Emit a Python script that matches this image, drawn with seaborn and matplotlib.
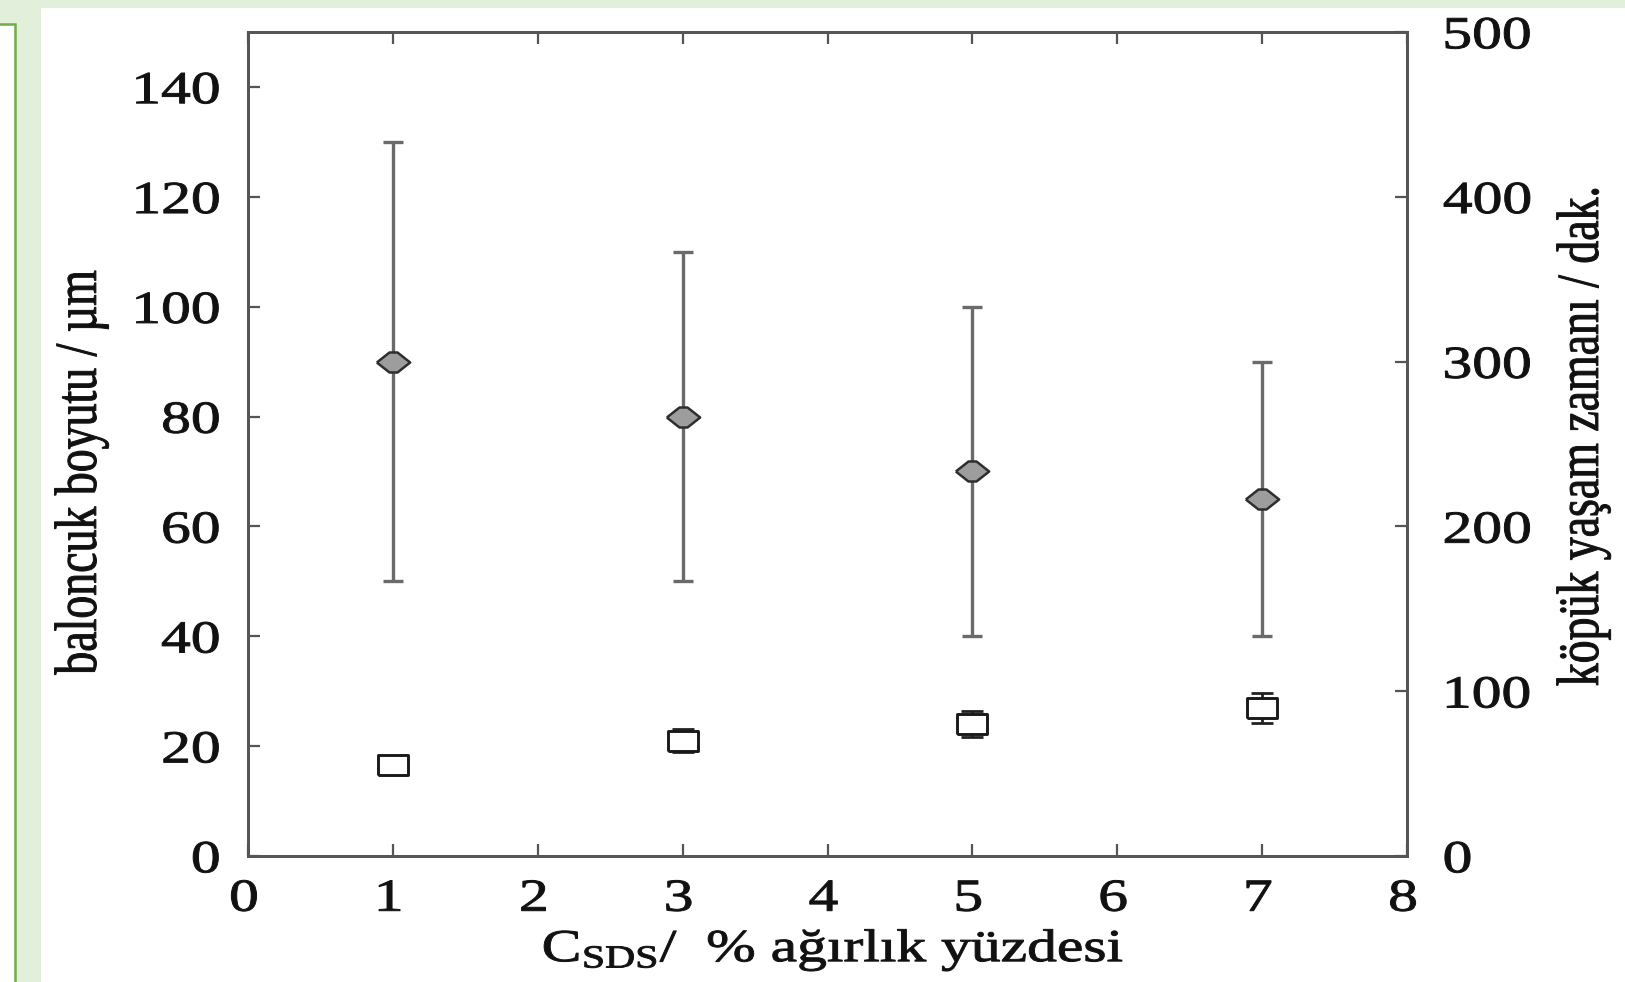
import matplotlib
matplotlib.use("Agg")
import matplotlib.pyplot as plt
import seaborn as sns
import numpy as np
import pandas as pd
from matplotlib.patches import Rectangle
from matplotlib.patheffects import AbstractPathEffect
from matplotlib.transforms import Affine2D

# ---------------- data ----------------
concentration = [1, 3, 5, 7]
bubble_size = [90, 80, 70, 65]
bubble_low = [50, 50, 40, 40]
bubble_high = [130, 110, 100, 90]
foam_life = [55, 70, 80, 90]
foam_err = [3, 7, 8, 9]

x_ticks = [0, 1, 2, 3, 4, 5, 6, 7, 8]
left_ticks = [0, 20, 40, 60, 80, 100, 120, 140]
right_ticks = [0, 100, 200, 300, 400, 500]

x_label = "C$_{\\mathrm{SDS}}$/  % ağırlık yüzdesi"
left_label = "baloncuk boyutu / µm"
right_label = "köpük yaşam zamanı / dak."

# ---------------- style ----------------
sns.set_theme(style="white")
plt.rcParams['font.family'] = ['Liberation Serif', 'DejaVu Serif']
plt.rcParams['mathtext.fontset'] = 'custom'
plt.rcParams['mathtext.rm'] = 'Liberation Serif'
plt.rcParams['mathtext.it'] = 'Liberation Serif:italic'
plt.rcParams['mathtext.bf'] = 'Liberation Serif:bold'


class Stretch(AbstractPathEffect):
    """Stretch rendered text glyphs (the reference image is stretched horizontally)."""
    def __init__(self, sx=1.0, sy=1.0, anchor='center', stroke=0.0, dx=0.0):
        super().__init__()
        self.sx, self.sy, self.anchor = sx, sy, anchor
        self.stroke = stroke
        self.dx = dx

    def draw_path(self, renderer, gc, tpath, affine, rgbFace=None):
        ext = tpath.get_extents()
        if self.anchor == 'left':
            axp = ext.x0
        elif self.anchor == 'right':
            axp = ext.x1
        else:
            axp = (ext.x0 + ext.x1) / 2
        ayp = (ext.y0 + ext.y1) / 2
        t = Affine2D().translate(-axp, -ayp).scale(self.sx, self.sy).translate(axp, ayp)
        full = t + affine + Affine2D().translate(self.dx, 0)
        gc0 = renderer.new_gc()
        gc0.copy_properties(gc)
        if self.stroke > 0 and rgbFace is not None:
            gc0.set_linewidth(self.stroke)
            gc0.set_foreground(rgbFace)
        renderer.draw_path(gc0, tpath, full, rgbFace)
        gc0.restore()


SX = 1.3
FS = 33
STROKE = 0.7
SPINE_C = '#555555'
TXT_C = '#111111'

fig = plt.figure(figsize=(16.25, 9.82), dpi=100)
fig.patch.set_facecolor('white')

# decorative slide background
light_green = '#E2EFDA'
border_green = '#70AD47'
fig.patches.append(Rectangle((0, 1 - 8 / 982), 1, 8 / 982, transform=fig.transFigure,
                             facecolor=light_green, edgecolor='none', zorder=0))
fig.patches.append(Rectangle((0, 0), 41 / 1625, 1, transform=fig.transFigure,
                             facecolor=light_green, edgecolor='none', zorder=0))
fig.patches.append(Rectangle((-5 / 1625, -5 / 982), 20 / 1625, (982 - 24 + 5) / 982,
                             transform=fig.transFigure, facecolor='white',
                             edgecolor=border_green, linewidth=1.8, zorder=1))

ax = fig.add_axes([248 / 1625, 126 / 982, 1159 / 1625, 824 / 982])
ax2 = ax.twinx()

# bubble size (left axis): grey diamonds with error bars
yerr = np.array([np.array(bubble_size) - np.array(bubble_low),
                 np.array(bubble_high) - np.array(bubble_size)])
ax.errorbar(concentration, bubble_size, yerr=yerr, fmt='none', ecolor='#6a6a6a',
            elinewidth=2.4, capsize=7.5, capthick=2.4, zorder=2)
diamond = [(-0.5, 0), (-0.12, 0.3), (0.12, 0.3), (0.5, 0), (0.12, -0.3), (-0.12, -0.3), (-0.5, 0)]
df_b = pd.DataFrame({'c': concentration, 'size': bubble_size})
sns.scatterplot(data=df_b, x='c', y='size', ax=ax, marker=diamond, s=24 ** 2,
                color='#9d9d9d', edgecolor='#2e2e2e', linewidth=1.8, zorder=3, legend=False)

# foam lifetime (right axis): open squares with small error bars
ax2.errorbar(concentration, foam_life, yerr=foam_err, fmt='none', ecolor='#222222',
             elinewidth=2.0, capsize=8, capthick=2.0, zorder=2)
square = [(-0.5, -0.33), (0.5, -0.33), (0.5, 0.33), (-0.5, 0.33), (-0.5, -0.33)]
df_f = pd.DataFrame({'c': concentration, 'life': foam_life})
sns.scatterplot(data=df_f, x='c', y='life', ax=ax2, marker=square, s=21.5 ** 2,
                color='white', edgecolor='#1a1a1a', linewidth=2.1, zorder=3, legend=False)

# limits & ticks
ax.set_xlim(0, 8)
ax.set_ylim(0, 150)
ax2.set_ylim(0, 500)
ax.set_xticks(x_ticks)
ax.set_xticklabels([str(v) for v in x_ticks])
ax.set_yticks(left_ticks)
ax.set_yticklabels([str(v) for v in left_ticks])
ax2.set_yticks(right_ticks)
ax2.set_yticklabels([str(v) for v in right_ticks])

for a in (ax, ax2):
    a.set_facecolor('none')
    for s in a.spines.values():
        s.set_color(SPINE_C)
        s.set_linewidth(2.0)
    a.grid(False)

ax.patch.set_visible(False)
ax.tick_params(axis='x', which='major', direction='in', length=8.5, width=1.6,
               color=SPINE_C, top=True, bottom=True, labelsize=FS, labelcolor=TXT_C, pad=16)
ax.tick_params(axis='y', which='major', direction='in', length=8.5, width=1.6,
               color=SPINE_C, left=True, right=False, labelsize=FS, labelcolor=TXT_C, pad=20)
ax2.tick_params(axis='y', which='major', direction='in', length=8.5, width=1.6,
                color=SPINE_C, right=True, left=False, labelsize=FS, labelcolor=TXT_C, pad=26)

for t in ax.xaxis.get_major_ticks():
    t.label1.set_path_effects([Stretch(SX, 1, 'center', STROKE, dx=-4)])
for t in ax.yaxis.get_major_ticks():
    t.label1.set_path_effects([Stretch(SX, 1, 'right', STROKE)])
for t in ax2.yaxis.get_major_ticks():
    t.label2.set_path_effects([Stretch(SX, 1, 'left', STROKE)])

# axis labels
ax.set_xlabel(x_label, fontsize=FS, color=TXT_C)
ax.set_ylabel(left_label, fontsize=FS, color=TXT_C)
ax2.set_ylabel(right_label, fontsize=FS, color=TXT_C, rotation=90)

ax.xaxis.label.set_va('center')
ax.xaxis.set_label_coords(0.505, -0.114)
ax.xaxis.label.set_path_effects([Stretch(SX, 1, 'center', STROKE)])

ax.yaxis.label.set_va('center')
ax.yaxis.label.set_ha('center')
ax.yaxis.set_label_coords(-0.144, 0.466)
ax.yaxis.label.set_path_effects([Stretch(1, SX, 'center', STROKE)])

ax2.yaxis.label.set_va('center')
ax2.yaxis.label.set_ha('center')
ax2.yaxis.set_label_coords(1.152, 0.51)
ax2.yaxis.label.set_path_effects([Stretch(1, SX, 'center', STROKE)])

fig.savefig('out.png', dpi=100, facecolor='white')
